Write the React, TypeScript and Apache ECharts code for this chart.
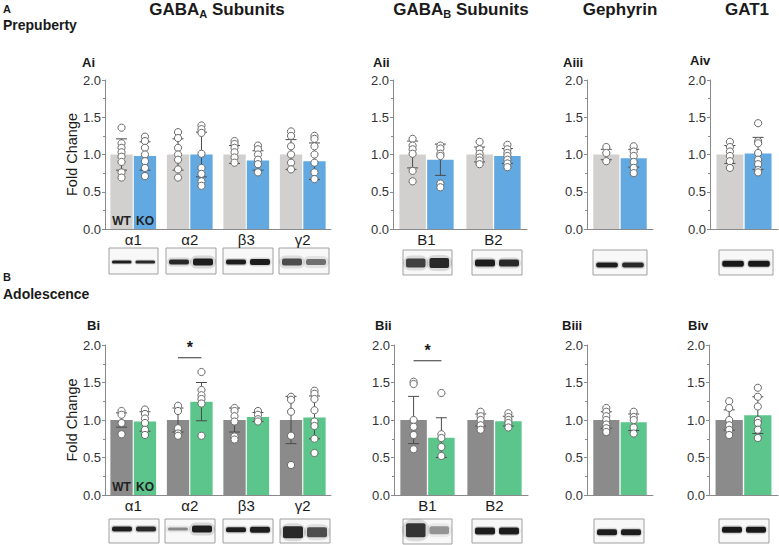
import React, { useEffect, useRef } from "react";
import * as echarts from "echarts";

// ---------- Data ----------
const catsGabaA = ["α1", "α2", "β3", "γ2"];
const catsGabaB = ["B1", "B2"];
const catsSingle = [""];

// Prepuberty (A)
const aiWTMean = [1.0, 1.0, 1.0, 1.0];
const aiWTSD = [0.21, 0.21, 0.12, 0.2];
const aiKOMean = [0.98, 1.0, 0.92, 0.91];
const aiKOSD = [0.19, 0.3, 0.13, 0.245];
const aiWTPts = [
  [1.36, 1.15, 1.09, 1.03, 0.97, 0.9, 0.76, 0.69],
  [1.3, 1.22, 1.09, 1.0, 0.93, 0.8, 0.69],
  [1.18, 1.14, 1.09, 1.03, 0.96, 0.89],
  [1.31, 1.25, 1.11, 1.0, 0.89, 0.8],
];
const aiKOPts = [
  [1.24, 1.18, 1.09, 1.0, 0.91, 0.82, 0.71],
  [1.39, 1.34, 1.29, 1.01, 0.82, 0.74, 0.64, 0.58],
  [1.12, 1.07, 1.0, 0.93, 0.87, 0.76],
  [1.25, 1.21, 1.11, 1.0, 0.89, 0.76, 0.67],
];

const aiiWTMean = [1.0, 1.0];
const aiiWTSD = [0.18, 0.1];
const aiiKOMean = [0.93, 0.98];
const aiiKOSD = [0.21, 0.1];
const aiiWTPts = [
  [1.21, 1.12, 1.07, 1.01, 0.78, 0.64],
  [1.17, 1.07, 1.01, 0.96, 0.92, 0.87],
];
const aiiKOPts = [
  [1.12, 1.08, 1.01, 0.98, 0.61, 0.56],
  [1.13, 1.07, 1.02, 0.98, 0.93, 0.88, 0.83],
];

const aiiiWTMean = [1.0];
const aiiiWTSD = [0.07];
const aiiiKOMean = [0.95];
const aiiiKOSD = [0.12];
const aiiiWTPts = [[1.1, 1.02, 0.91]];
const aiiiKOPts = [[1.11, 1.04, 0.98, 0.9, 0.82, 0.75]];

const aivWTMean = [1.0];
const aivWTSD = [0.12];
const aivKOMean = [1.015];
const aivKOSD = [0.215];
const aivWTPts = [[1.17, 1.1, 1.04, 0.98, 0.91, 0.82]];
const aivKOPts = [[1.42, 1.18, 1.15, 1.02, 0.93, 0.87, 0.79, 0.76]];

// Adolescence (B)
const biWTMean = [1.0, 1.0, 1.0, 1.0];
const biWTSD = [0.095, 0.16, 0.16, 0.315];
const biKOMean = [0.98, 1.245, 1.04, 1.035];
const biKOSD = [0.13, 0.255, 0.06, 0.285];
const biWTPts = [
  [1.12, 1.07, 0.96, 0.81],
  [1.19, 1.12, 0.89, 0.82, 0.79],
  [1.16, 1.12, 1.05, 0.98, 0.78, 0.74],
  [1.31, 1.27, 1.11, 0.79, 0.4],
];
const biKOPts = [
  [1.14, 1.08, 1.02, 0.96, 0.87, 0.8],
  [1.64, 1.4, 1.33, 1.28, 1.22, 0.79],
  [1.12, 1.07, 1.01, 0.98],
  [1.39, 1.35, 1.28, 1.13, 0.98, 0.92, 0.75, 0.56],
];

const biiWTMean = [1.0, 1.0];
const biiWTSD = [0.315, 0.08];
const biiKOMean = [0.765, 0.985];
const biiKOSD = [0.265, 0.065];
const biiWTPts = [
  [1.51, 1.48, 1.0, 0.91, 0.8, 0.61],
  [1.11, 1.05, 1.0, 0.93, 0.87],
];
const biiKOPts = [
  [1.36, 0.81, 0.76, 0.64, 0.52],
  [1.09, 1.04, 1.0, 0.96, 0.9],
];

const biiiWTMean = [1.0];
const biiiWTSD = [0.11];
const biiiKOMean = [0.97];
const biiiKOSD = [0.11];
const biiiWTPts = [[1.16, 1.11, 1.05, 1.0, 0.94, 0.89, 0.84]];
const biiiKOPts = [[1.11, 1.04, 1.0, 0.9, 0.82]];

const bivWTMean = [1.0];
const bivWTSD = [0.135];
const bivKOMean = [1.065];
const bivKOSD = [0.245];
const bivWTPts = [[1.25, 1.16, 1.0, 0.93, 0.87, 0.8]];
const bivKOPts = [[1.43, 1.31, 1.18, 1.0, 0.96, 0.87, 0.76]];

// significance brackets: [categoryIndex, y value]
const sigBi = [[1, 1.83]];
const sigBii = [[0, 1.79]];

const yTicks = [0, 0.5, 1.0, 1.5, 2.0];

// ---------- Styling ----------
const FONT = "'Liberation Sans', Arial, Helvetica, sans-serif";
const CAT_GAP = 0.19;
const BAR_GAP = 0.05;
const rowAColors = { wt: "#d1d0ce", ko: "#62a9e1" };
const rowBColors = { wt: "#8b8b8b", ko: "#5cc58b" };

const panels = [
  { cats: catsGabaA, wm: aiWTMean, ws: aiWTSD, km: aiKOMean, ks: aiKOSD, wp: aiWTPts, kp: aiKOPts, col: rowAColors, grid: { left: 105, top: 80, width: 226, height: 149 }, yName: "Fold Change", wtko: true, sig: null },
  { cats: catsGabaB, wm: aiiWTMean, ws: aiiWTSD, km: aiiKOMean, ks: aiiKOSD, wp: aiiWTPts, kp: aiiKOPts, col: rowAColors, grid: { left: 393, top: 80, width: 134, height: 149 }, yName: "", wtko: false, sig: null },
  { cats: catsSingle, wm: aiiiWTMean, ws: aiiiWTSD, km: aiiiKOMean, ks: aiiiKOSD, wp: aiiiWTPts, kp: aiiiKOPts, col: rowAColors, grid: { left: 587, top: 80, width: 66, height: 149 }, yName: "", wtko: false, sig: null },
  { cats: catsSingle, wm: aivWTMean, ws: aivWTSD, km: aivKOMean, ks: aivKOSD, wp: aivWTPts, kp: aivKOPts, col: rowAColors, grid: { left: 710, top: 80, width: 68, height: 149 }, yName: "", wtko: false, sig: null },
  { cats: catsGabaA, wm: biWTMean, ws: biWTSD, km: biKOMean, ks: biKOSD, wp: biWTPts, kp: biKOPts, col: rowBColors, grid: { left: 105, top: 345, width: 226, height: 150 }, yName: "Fold Change", wtko: true, sig: sigBi },
  { cats: catsGabaB, wm: biiWTMean, ws: biiWTSD, km: biiKOMean, ks: biiKOSD, wp: biiWTPts, kp: biiKOPts, col: rowBColors, grid: { left: 394, top: 345, width: 134, height: 150 }, yName: "", wtko: false, sig: sigBii },
  { cats: catsSingle, wm: biiiWTMean, ws: biiiWTSD, km: biiiKOMean, ks: biiiKOSD, wp: biiiWTPts, kp: biiiKOPts, col: rowBColors, grid: { left: 587, top: 345, width: 66, height: 150 }, yName: "", wtko: false, sig: null },
  { cats: catsSingle, wm: bivWTMean, ws: bivWTSD, km: bivKOMean, ks: bivKOSD, wp: bivWTPts, kp: bivKOPts, col: rowBColors, grid: { left: 709, top: 345, width: 69, height: 150 }, yName: "", wtko: false, sig: null },
];

function barOffset(api: any, g: number) {
  const band = api.size([1, 0])[0];
  const bw = (band * (1 - CAT_GAP)) / (2 + BAR_GAP);
  return (g === 0 ? -1 : 1) * (bw / 2 + (bw * BAR_GAP) / 2);
}

// Western blot thumbnails: [x, y, w, h, band centre fraction, lane1 [height, darkness, blur], lane2 [...]]
const blots: any[] = [
  [109, 248, 49, 26, 0.54, [3, 0.95, 1], [3, 0.9, 1]],
  [166, 248, 50, 26, 0.54, [5, 0.9, 2], [7, 0.95, 3]],
  [223, 248, 50, 26, 0.54, [5, 0.95, 1.5], [6, 0.95, 1.5]],
  [279, 248, 50, 26, 0.54, [7, 0.75, 3], [6, 0.6, 3]],
  [403, 250, 49, 25, 0.52, [9, 0.8, 3], [10, 0.9, 3]],
  [472, 250, 50, 25, 0.52, [7, 0.95, 2], [7, 0.9, 2]],
  [593, 250, 54, 25, 0.6, [5, 0.95, 1.5], [5, 0.9, 1.5]],
  [719, 250, 54, 25, 0.55, [6, 0.97, 1.5], [6, 0.97, 1.5]],
  [109, 519, 50, 24, 0.42, [5, 0.95, 1.5], [5, 0.9, 1.5]],
  [165, 519, 50, 24, 0.42, [3, 0.5, 2], [7, 0.95, 3]],
  [223, 519, 50, 24, 0.45, [5, 0.95, 1.5], [6, 0.95, 1.5]],
  [280, 519, 50, 24, 0.55, [12, 0.9, 3], [10, 0.75, 3]],
  [403, 519, 49, 25, 0.45, [14, 0.85, 4], [8, 0.45, 3]],
  [472, 519, 50, 24, 0.5, [7, 0.95, 1.5], [7, 0.95, 1.5]],
  [594, 519, 50, 24, 0.55, [6, 0.95, 1.5], [6, 0.95, 1.5]],
  [719, 519, 50, 24, 0.45, [6, 0.97, 1.5], [6, 0.97, 1.5]],
];

function blotGraphics() {
  const out: any[] = [];
  blots.forEach((b) => {
    const [x, y, w, h, fy, l1, l2] = b;
    out.push({
      type: "rect",
      shape: { x, y, width: w, height: h },
      style: { fill: "#f8f8f8", stroke: "#a0a0a0", lineWidth: 1 },
    });
    [l1, l2].forEach((l: number[], i: number) => {
      const [bh, dark, blur] = l;
      const cx = x + w * (i === 0 ? 0.26 : 0.74);
      const bwid = w * 0.4;
      const cy = y + h * fy;
      const g = Math.round(255 * (1 - dark));
      const c = `rgb(${g},${g},${g})`;
      out.push({
        type: "rect",
        shape: { x: cx - bwid / 2 - blur, y: cy - bh / 2 - blur, width: bwid + 2 * blur, height: bh + 2 * blur, r: (bh + 2 * blur) / 2 },
        style: { fill: c, opacity: 0.14 },
      });
      out.push({
        type: "rect",
        shape: { x: cx - bwid / 2, y: cy - bh / 2, width: bwid, height: bh, r: Math.min(bh / 2, 2) },
        style: { fill: c, opacity: 0.92 },
      });
    });
  });
  return out;
}

function textG(text: string, x: number, y: number, size: number, bold = true, align = "left") {
  return {
    type: "text",
    x,
    y,
    style: {
      text,
      fontSize: size,
      fontWeight: bold ? "bold" : "normal",
      fontFamily: FONT,
      fill: "#1a1a1a",
      align,
      textAlign: align,
      verticalAlign: "middle",
      textVerticalAlign: "middle",
    },
  };
}

function titleG(main: string, sub: string, rest: string, cx: number, y: number) {
  return {
    type: "text",
    x: cx,
    y,
    style: {
      text: `{m|${main}}` + (sub ? `{s|${sub}}` : "") + `{m|${rest}}`,
      fontFamily: FONT,
      fill: "#1a1a1a",
      align: "center",
      textAlign: "center",
      verticalAlign: "middle",
      textVerticalAlign: "middle",
      rich: {
        m: { fontSize: 17, fontWeight: "bold", fontFamily: FONT, fill: "#1a1a1a", color: "#1a1a1a", lineHeight: 20 },
        s: { fontSize: 11, fontWeight: "bold", fontFamily: FONT, fill: "#1a1a1a", color: "#1a1a1a", lineHeight: 20, padding: [9, 0, 0, 0] },
      },
    },
  };
}

export default function App() {
  const ref = useRef<HTMLDivElement>(null);
  useEffect(() => {
    if (!ref.current) return;
    const chart = echarts.init(ref.current, undefined, { renderer: "svg" });
    const grid: any[] = [];
    const xAxis: any[] = [];
    const yAxis: any[] = [];
    const series: any[] = [];

    panels.forEach((p, i) => {
      grid.push({ ...p.grid, containLabel: false });
      xAxis.push({
        type: "category",
        gridIndex: i,
        data: p.cats,
        axisLine: { lineStyle: { color: "#8a8a8a", width: 1 } },
        axisTick: { show: false },
        axisLabel: { fontSize: 15, color: "#1a1a1a", margin: 3, fontFamily: FONT },
      });
      yAxis.push({
        type: "value",
        gridIndex: i,
        min: yTicks[0],
        max: yTicks[yTicks.length - 1],
        interval: 0.5,
        name: p.yName,
        nameLocation: "middle",
        nameGap: 26,
        nameTextStyle: { fontSize: 14.5, color: "#1a1a1a", fontFamily: FONT },
        axisLine: { show: true, lineStyle: { color: "#8a8a8a", width: 1 } },
        axisTick: { show: true, length: 3, lineStyle: { color: "#8a8a8a" } },
        minorTick: { show: true, splitNumber: 2, length: 2, lineStyle: { color: "#8a8a8a" } },
        splitLine: { show: false },
        axisLabel: { fontSize: 13, color: "#333", margin: 4, fontFamily: FONT, formatter: (v: number) => v.toFixed(1) },
      });
      const lbl = (txt: string) => ({
        show: p.wtko,
        position: "insideBottom",
        distance: 2,
        fontSize: 12,
        fontWeight: "bold",
        color: "#222",
        fontFamily: FONT,
        formatter: (prm: any) => (prm.dataIndex === 0 ? txt : ""),
      });
      series.push({
        type: "bar",
        name: "WT",
        xAxisIndex: i,
        yAxisIndex: i,
        data: p.wm,
        barCategoryGap: CAT_GAP * 100 + "%",
        barGap: BAR_GAP * 100 + "%",
        itemStyle: { color: p.col.wt },
        label: lbl("WT"),
        z: 2,
      });
      series.push({
        type: "bar",
        name: "KO",
        xAxisIndex: i,
        yAxisIndex: i,
        data: p.km,
        barCategoryGap: CAT_GAP * 100 + "%",
        barGap: BAR_GAP * 100 + "%",
        itemStyle: { color: p.col.ko },
        label: lbl("KO"),
        z: 2,
      });
      const errData: any[] = [];
      p.wm.forEach((m, c) => errData.push([c, 0, m, p.ws[c]]));
      p.km.forEach((m, c) => errData.push([c, 1, m, p.ks[c]]));
      series.push({
        type: "custom",
        xAxisIndex: i,
        yAxisIndex: i,
        data: errData,
        encode: { x: 0, y: 2 },
        z: 3,
        renderItem: (params: any, api: any) => {
          const c = api.value(0);
          const g = api.value(1);
          const m = api.value(2);
          const sd = api.value(3);
          const cx = api.coord([c, m])[0] + barOffset(api, g);
          const yt = api.coord([c, m + sd])[1];
          const yb = api.coord([c, m - sd])[1];
          const cap = 5.5;
          const st = { stroke: "#4a4a4a", lineWidth: 1 };
          return {
            type: "group",
            children: [
              { type: "line", shape: { x1: cx, y1: yt, x2: cx, y2: yb }, style: st },
              { type: "line", shape: { x1: cx - cap, y1: yt, x2: cx + cap, y2: yt }, style: st },
              { type: "line", shape: { x1: cx - cap, y1: yb, x2: cx + cap, y2: yb }, style: st },
            ],
          };
        },
      });
      const ptData: any[] = [];
      p.wp.forEach((arr, c) => arr.forEach((v) => ptData.push([c, 0, v])));
      p.kp.forEach((arr, c) => arr.forEach((v) => ptData.push([c, 1, v])));
      series.push({
        type: "custom",
        xAxisIndex: i,
        yAxisIndex: i,
        data: ptData,
        encode: { x: 0, y: 2 },
        z: 4,
        renderItem: (params: any, api: any) => {
          const c = api.value(0);
          const g = api.value(1);
          const v = api.value(2);
          const pt = api.coord([c, v]);
          return {
            type: "circle",
            shape: { cx: pt[0] + barOffset(api, g), cy: pt[1], r: 3.6 },
            style: { fill: "#ffffff", stroke: "#6a6a6a", lineWidth: 1 },
          };
        },
      });
      if (p.sig) {
        series.push({
          type: "custom",
          xAxisIndex: i,
          yAxisIndex: i,
          data: p.sig,
          encode: { x: 0, y: 1 },
          z: 5,
          renderItem: (params: any, api: any) => {
            const c = api.value(0);
            const v = api.value(1);
            const pt = api.coord([c, v]);
            const x1 = pt[0] + barOffset(api, 0);
            const x2 = pt[0] + barOffset(api, 1);
            return {
              type: "group",
              children: [
                { type: "line", shape: { x1, y1: pt[1], x2, y2: pt[1] }, style: { stroke: "#333", lineWidth: 1 } },
                {
                  type: "text",
                  x: (x1 + x2) / 2,
                  y: pt[1] - 2,
                  style: { text: "*", fontSize: 16, fontWeight: "bold", fontFamily: FONT, fill: "#1a1a1a", align: "center", verticalAlign: "bottom" },
                },
              ],
            };
          },
        });
      }
    });

    const graphic: any[] = [
      textG("A", 3, 9, 11),
      textG("Prepuberty", 3, 25, 14),
      textG("B", 3, 277, 11),
      textG("Adolescence", 3, 294, 14),
      titleG("GABA", "A", " Subunits", 217, 9),
      titleG("GABA", "B", " Subunits", 461, 9),
      titleG("Gephyrin", "", "", 620, 9),
      titleG("GAT1", "", "", 747, 9),
      textG("Ai", 82, 62, 13),
      textG("Aii", 373, 62, 13),
      textG("Aiii", 563, 62, 13),
      textG("Aiv", 690, 60, 13),
      textG("Bi", 87, 325, 13),
      textG("Bii", 375, 325, 13),
      textG("Biii", 562, 325, 13),
      textG("Biv", 688, 325, 13),
      ...blotGraphics(),
    ];

    chart.setOption({
      animation: false,
      backgroundColor: "#ffffff",
      textStyle: { fontFamily: FONT },
      grid,
      xAxis,
      yAxis,
      series,
      graphic,
    });
    return () => chart.dispose();
  }, []);
  return (
    <div
      ref={ref}
      style={{ position: "fixed", left: 0, top: 0, width: 779, height: 545 }}
    />
  );
}
